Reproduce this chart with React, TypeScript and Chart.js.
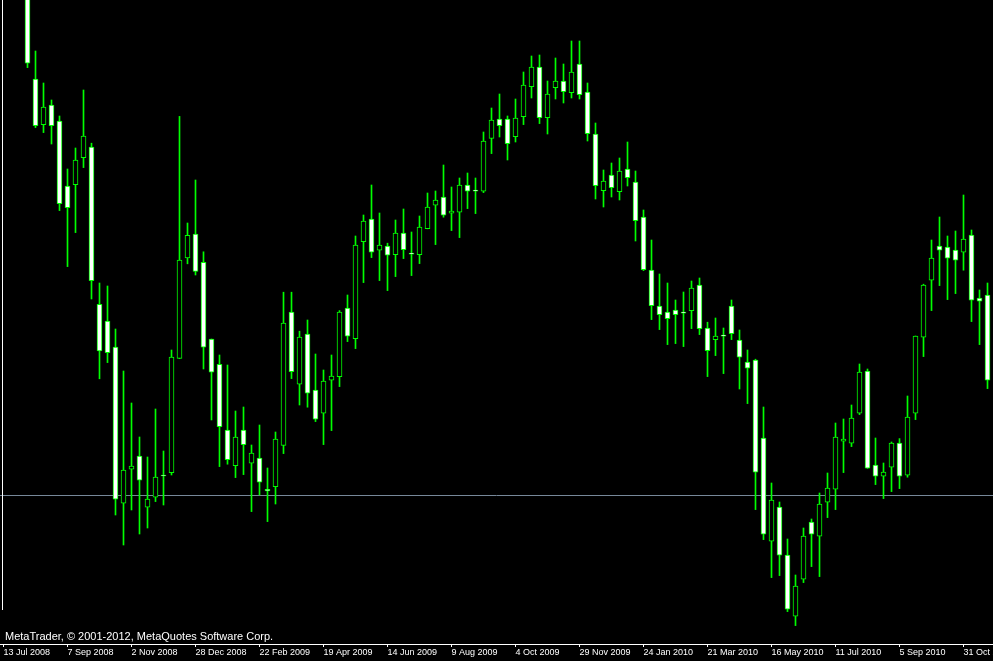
import React, { useEffect, useRef } from 'react';
import { Chart, registerables } from 'chart.js';

Chart.register(...registerables);

// Weekly bars, EUR/USD style. Week index 0 = 13 Jul 2008; first drawn bar is week 3.
const firstWeek = 3;

const opens = [
  1.5575, 1.5004, 1.4777, 1.4874, 1.4794, 1.4469, 1.4477, 1.4612, 1.4664, 1.3878,
  1.3794, 1.3664, 1.2884, 1.3054, 1.3119, 1.2864, 1.2914, 1.3025, 1.3037, 1.3608,
  1.4111, 1.4229, 1.4088, 1.3704, 1.3578, 1.3249, 1.3072, 1.3249, 1.3084, 1.3109,
  1.2953, 1.2967, 1.3173, 1.3839, 1.3479, 1.3729, 1.3449, 1.3334, 1.3499, 1.3517,
  1.3859, 1.3707, 1.4192, 1.4304, 1.4149, 1.4169, 1.4127, 1.4234, 1.4134, 1.4127,
  1.4257, 1.4374, 1.4414, 1.4334, 1.4339, 1.4474, 1.4449, 1.4444, 1.4708, 1.4804,
  1.4804, 1.4717, 1.4817, 1.4967, 1.5064, 1.4812, 1.4962, 1.4994, 1.4937, 1.5079,
  1.4939, 1.4729, 1.4447, 1.4524, 1.4442, 1.4554, 1.4489, 1.4314, 1.4049, 1.3869,
  1.3839, 1.3849, 1.3839, 1.3847, 1.3974, 1.3759, 1.3702, 1.3724, 1.3869, 1.3699,
  1.3589, 1.3599, 1.3209, 1.2694, 1.2864, 1.2624, 1.2319, 1.2504, 1.2789, 1.2719,
  1.2889, 1.2954, 1.3194, 1.3184, 1.3334, 1.3544, 1.3074, 1.3019, 1.3064, 1.3184,
  1.3024, 1.3334, 1.3714, 1.3999, 1.4169, 1.4164, 1.4149, 1.4139, 1.4224, 1.3909,
  1.3924,
];

const highs = [
  1.5625, 1.5145, 1.4985, 1.4900, 1.4820, 1.4555, 1.4660, 1.4950, 1.4684, 1.3985,
  1.3970, 1.3755, 1.3545, 1.3385, 1.3215, 1.3115, 1.3355, 1.3145, 1.3650, 1.4818,
  1.4285, 1.4500, 1.4141, 1.3705, 1.3625, 1.3575, 1.3345, 1.3365, 1.3175, 1.3275,
  1.3060, 1.3240, 1.3939, 1.3939, 1.3744, 1.3800, 1.3630, 1.3550, 1.3625, 1.3847,
  1.3925, 1.4220, 1.4325, 1.4475, 1.4335, 1.4184, 1.4300, 1.4355, 1.4240, 1.4320,
  1.4435, 1.4445, 1.4575, 1.4465, 1.4510, 1.4535, 1.4510, 1.4740, 1.4860, 1.4930,
  1.4820, 1.4905, 1.5040, 1.5120, 1.5125, 1.4995, 1.5110, 1.5080, 1.5195, 1.5195,
  1.4985, 1.4785, 1.4550, 1.4585, 1.4610, 1.4690, 1.4545, 1.4350, 1.4200, 1.4030,
  1.3985, 1.3900, 1.3940, 1.3995, 1.4010, 1.3789, 1.3810, 1.3760, 1.3900, 1.3750,
  1.3650, 1.3604, 1.3365, 1.2985, 1.2890, 1.2705, 1.2525, 1.2760, 1.2805, 1.2935,
  1.3035, 1.3285, 1.3305, 1.3375, 1.3580, 1.3555, 1.3210, 1.3085, 1.3190, 1.3207,
  1.3420, 1.3720, 1.3979, 1.4200, 1.4315, 1.4220, 1.4245, 1.4425, 1.4250, 1.3950,
  1.3985,
];

const lows = [
  1.5062, 1.4762, 1.4737, 1.4680, 1.4347, 1.4067, 1.4237, 1.4562, 1.3905, 1.3506,
  1.3587, 1.2825, 1.2675, 1.2850, 1.2730, 1.2760, 1.2892, 1.2875, 1.3025, 1.3607,
  1.4081, 1.4025, 1.3555, 1.3300, 1.3067, 1.3079, 1.3012, 1.3027, 1.2842, 1.2925,
  1.2792, 1.2880, 1.3132, 1.3507, 1.3375, 1.3364, 1.3292, 1.3177, 1.3247, 1.3467,
  1.3692, 1.3657, 1.3987, 1.4112, 1.3997, 1.3947, 1.4017, 1.4107, 1.4022, 1.4082,
  1.4256, 1.4177, 1.4314, 1.4247, 1.4212, 1.4357, 1.4332, 1.4437, 1.4632, 1.4715,
  1.4600, 1.4690, 1.4777, 1.4910, 1.4782, 1.4730, 1.4905, 1.4885, 1.4910, 1.4905,
  1.4695, 1.4405, 1.4365, 1.4415, 1.4400, 1.4470, 1.4195, 1.4047, 1.3802, 1.3752,
  1.3677, 1.3682, 1.3667, 1.3757, 1.3727, 1.3517, 1.3622, 1.3532, 1.3702, 1.3455,
  1.3382, 1.2852, 1.2702, 1.2512, 1.2522, 1.2342, 1.2272, 1.2487, 1.2567, 1.2517,
  1.2812, 1.2852, 1.3037, 1.3167, 1.3327, 1.3058, 1.2977, 1.2907, 1.2942, 1.2957,
  1.3014, 1.3302, 1.3617, 1.3847, 1.3972, 1.3902, 1.3932, 1.4049, 1.3792, 1.3677,
  1.3457,
];

const closes = [
  1.5084, 1.4772, 1.4864, 1.4772, 1.4382, 1.4362, 1.4599, 1.4719, 1.3997, 1.3646,
  1.3637, 1.2904, 1.3049, 1.3070, 1.2999, 1.2904, 1.3014, 1.3020, 1.3614, 1.4099,
  1.4223, 1.4043, 1.3664, 1.3539, 1.3267, 1.3102, 1.3214, 1.3177, 1.3134, 1.2989,
  1.2945, 1.3204, 1.3784, 1.3542, 1.3714, 1.3434, 1.3304, 1.3494, 1.3519, 1.3839,
  1.3719, 1.4174, 1.4294, 1.4139, 1.4174, 1.4124, 1.4234, 1.4152, 1.4129, 1.4264,
  1.4364, 1.4399, 1.4324, 1.4344, 1.4474, 1.4444, 1.4444, 1.4694, 1.4799, 1.4772,
  1.4682, 1.4809, 1.4974, 1.5064, 1.4812, 1.4929, 1.4994, 1.4942, 1.5039, 1.4927,
  1.4732, 1.4472, 1.4494, 1.4462, 1.4544, 1.4512, 1.4297, 1.4052, 1.3872, 1.3827,
  1.3807, 1.3827, 1.3834, 1.3959, 1.3757, 1.3647, 1.3719, 1.3719, 1.3732, 1.3614,
  1.3559, 1.3039, 1.2729, 1.2899, 1.2624, 1.2354, 1.2469, 1.2719, 1.2729, 1.2879,
  1.2959, 1.3214, 1.3204, 1.3309, 1.3539, 1.3059, 1.3019, 1.3039, 1.3184, 1.3019,
  1.3314, 1.3719, 1.3974, 1.4109, 1.4149, 1.4109, 1.4099, 1.4204, 1.3899, 1.3894,
  1.3499,
];

const tickWeeks = [0, 8, 16, 24, 32, 40, 48, 56, 64, 72, 80, 88, 96, 104, 112, 120];
const tickLabels = [
  '13 Jul 2008', '7 Sep 2008', '2 Nov 2008', '28 Dec 2008', '22 Feb 2009', '19 Apr 2009',
  '14 Jun 2009', '9 Aug 2009', '4 Oct 2009', '29 Nov 2009', '24 Jan 2010', '21 Mar 2010',
  '16 May 2010', '11 Jul 2010', '5 Sep 2010', '31 Oct 2010',
];

const bidPrice = 1.2923;
const copyrightText = 'MetaTrader, © 2001-2012, MetaQuotes Software Corp.';

const GREEN = '#00ff00';

const overlayPlugin = {
  id: 'mtOverlay',
  beforeDatasetsDraw(chart: any) {
    const { ctx, chartArea, scales } = chart;
    const y = Math.floor(scales.y.getPixelForValue(bidPrice)) + 0.5;
    ctx.save();
    ctx.strokeStyle = '#778899';
    ctx.lineWidth = 1;
    ctx.beginPath();
    ctx.moveTo(chartArea.left, y);
    ctx.lineTo(chartArea.right, y);
    ctx.stroke();
    ctx.restore();
  },
  afterDraw(chart: any) {
    const { ctx } = chart;
    ctx.save();
    ctx.fillStyle = '#ffffff';
    ctx.fillRect(2, 0, 1, 610);
    ctx.font = '11px "Liberation Sans", Arial, sans-serif';
    ctx.textBaseline = 'alphabetic';
    ctx.textAlign = 'left';
    ctx.fillText(copyrightText, 5, 640);
    ctx.restore();
  },
};

export default function App() {
  const canvasRef = useRef<HTMLCanvasElement | null>(null);

  useEffect(() => {
    document.body.style.margin = '0';
    document.body.style.background = '#000';
    const canvas = canvasRef.current;
    if (!canvas) return;

    const wickData = opens.map((_, i) => ({ x: firstWeek + i, y: [lows[i], highs[i]] }));
    const bodyData = opens.map((o, i) => ({ x: firstWeek + i, y: [o, closes[i]] }));

    const chart = new Chart(canvas, {
      type: 'bar',
      data: {
        datasets: [
          {
            label: 'wicks',
            data: wickData as any,
            backgroundColor: GREEN,
            borderWidth: 0,
            barThickness: 1,
            grouped: false,
            order: 2,
          } as any,
          {
            label: 'bodies',
            data: bodyData as any,
            backgroundColor: (c: any) => {
              const i = c.dataIndex;
              return closes[i] < opens[i] ? '#ffffff' : '#000000';
            },
            borderColor: GREEN,
            borderWidth: 1,
            borderSkipped: false,
            barThickness: 5,
            grouped: false,
            order: 1,
          } as any,
        ],
      },
      options: {
        animation: false,
        responsive: false,
        events: [],
        layout: { padding: { left: 0, right: 0, top: 0, bottom: 2 }, autoPadding: false } as any,
        plugins: { legend: { display: false }, tooltip: { enabled: false }, title: { display: false } },
        scales: {
          x: {
            type: 'linear',
            min: -0.4375,
            max: 123.6875,
            offset: false,
            afterBuildTicks: (scale: any) => {
              scale.ticks = tickWeeks.map((v) => ({ value: v }));
            },
            afterFit: (scale: any) => {
              scale.paddingLeft = 0;
              scale.paddingRight = 0;
            },
            grid: {
              display: true,
              drawOnChartArea: false,
              drawTicks: true,
              tickLength: 3,
              tickColor: '#ffffff',
              tickWidth: 1,
              offset: false,
            },
            border: { display: true, color: '#ffffff', width: 1 },
            ticks: {
              autoSkip: false,
              maxRotation: 0,
              minRotation: 0,
              align: 'start',
              padding: 1,
              color: '#ffffff',
              font: { family: '"Liberation Sans", Arial, sans-serif', size: 9, lineHeight: '10px' },
              callback: (_v: any, index: number) => tickLabels[index] ?? '',
            },
          } as any,
          y: {
            type: 'linear',
            display: false,
            min: 1.218,
            max: 1.54,
          },
        },
      },
      plugins: [overlayPlugin],
    });

    return () => chart.destroy();
  }, []);

  return (
    <div style={{ width: 993, height: 661, background: '#000', position: 'relative' }}>
      <canvas ref={canvasRef} width={993} height={661} style={{ display: 'block' }} />
    </div>
  );
}
